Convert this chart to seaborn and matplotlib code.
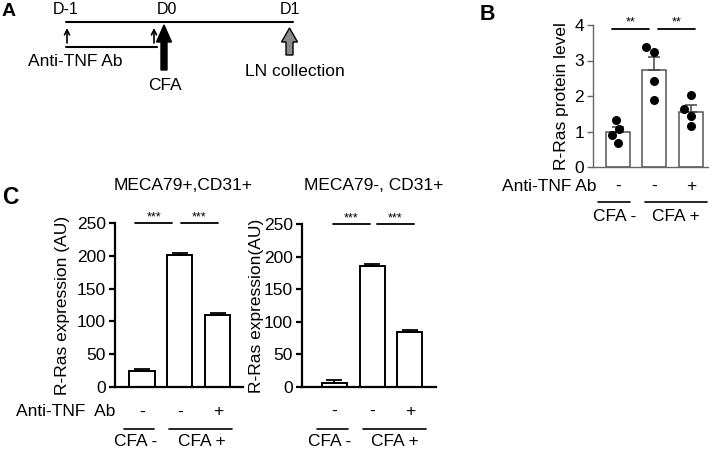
import matplotlib

matplotlib.use("Agg")

import matplotlib.pyplot as plt
import numpy as np
import pandas as pd
import seaborn as sns
from matplotlib.patches import FancyArrow

# ---- data ----
B_GROUPS = ["ctrl", "cfa", "cfa_tnf"]
B_CTRL = [1.32, 1.08, 0.89, 0.68]
B_CFA = [3.25, 3.39, 2.43, 1.90]
B_CFA_TNF = [2.02, 1.62, 1.45, 1.15]

C_GROUPS = ["ctrl", "cfa", "cfa_tnf"]
C_LEFT_MEAN = [24, 201, 109]
C_LEFT_SEM = [3, 4, 4]
C_RIGHT_MEAN = [6, 185, 85]
C_RIGHT_SEM = [5, 4, 3]

TNF_SIGNS = ["-", "-", "+"]

W, H = 719, 450

sns.set_theme(style="ticks")
plt.rcParams.update(
    {
        "font.family": ["Liberation Sans", "DejaVu Sans"],
        "font.size": 12.5,
        "text.color": "black",
        "axes.labelcolor": "black",
        "xtick.color": "black",
        "ytick.color": "black",
    }
)

fig = plt.figure(figsize=(W / 100, H / 100), dpi=100)


def px_axes(left, top, right, bottom):
    return fig.add_axes([left / W, 1 - bottom / H, (right - left) / W, (bottom - top) / H])


def ftext(x, y, s, **kw):
    fig.text(x / W, 1 - y / H, s, **kw)


def style_axes(ax, lw, color):
    sns.despine(ax=ax)
    for side in ["left", "bottom"]:
        ax.spines[side].set_linewidth(lw)
        ax.spines[side].set_color(color)
    ax.tick_params(axis="y", length=4, width=lw, color=color, pad=2.5, labelsize=12.5)
    ax.tick_params(axis="x", length=0, labelbottom=False)
    ax.set_xlabel("")


def sig_bar(ax, x0, x1, y, stars, ystar):
    ax.plot([x0, x1], [y, y], color="black", lw=1.3, clip_on=False)
    ax.text((x0 + x1) / 2, ystar, stars, ha="center", va="center", fontsize=9, clip_on=False)


def under_labels(ax, label, label_x, y_sign, y_line, y_cfa, seg1, seg2, cfa_x):
    tr = ax.get_xaxis_transform()
    ax.text(label_x, y_sign, label, transform=tr, ha="right", va="center", fontsize=12.5)
    for i, s in enumerate(TNF_SIGNS):
        ax.text(i, y_sign, s, transform=tr, ha="center", va="center", fontsize=12.5)
    for seg in (seg1, seg2):
        ax.plot(seg, [y_line, y_line], transform=tr, color="black", lw=1.2, clip_on=False)
    ax.text(cfa_x[0], y_cfa, "CFA -", transform=tr, ha="center", va="center", fontsize=12.5)
    ax.text(cfa_x[1], y_cfa, "CFA +", transform=tr, ha="center", va="center", fontsize=12.5)


# ---- panel A: timeline schematic ----
axA = fig.add_axes([0, 0, 1, 1], zorder=-1)
axA.set_xlim(0, W)
axA.set_ylim(H, 0)
axA.axis("off")
axA.plot([66, 293], [21.7, 21.7], color="black", lw=1.5)
axA.plot([66, 157], [46.7, 46.7], color="black", lw=1.5)
for x in (67, 154):
    axA.annotate("", xy=(x, 28), xytext=(x, 43),
                 arrowprops=dict(arrowstyle="->", lw=1.2, color="black", mutation_scale=9,
                                 shrinkA=0, shrinkB=0))
axA.add_patch(FancyArrow(164, 70, 0, -45, width=6, head_width=15, head_length=17,
                         length_includes_head=True, color="black"))
axA.add_patch(FancyArrow(289.5, 55, 0, -27, width=7, head_width=16, head_length=14,
                         length_includes_head=True, facecolor="#8c8c8c", edgecolor="black", lw=1))
ftext(66, 10, "D-1", ha="center", va="center", fontsize=11.5)
ftext(167, 10, "D0", ha="center", va="center", fontsize=11.5)
ftext(290, 10, "D1", ha="center", va="center", fontsize=11.5)
ftext(75, 62, "Anti-TNF Ab", ha="center", va="center", fontsize=12.5)
ftext(165, 85, "CFA", ha="center", va="center", fontsize=12.5)
ftext(295, 72, "LN collection", ha="center", va="center", fontsize=12.5)

ftext(2, 12, "A", ha="left", va="center", fontsize=14, weight="bold")
ftext(480, 15, "B", ha="left", va="center", fontsize=15.5, weight="bold")
ftext(2, 198, "C", ha="left", va="center", fontsize=16.5, weight="bold")

# ---- panel B ----
b_df = pd.DataFrame(
    {
        "group": np.repeat(B_GROUPS, [len(B_CTRL), len(B_CFA), len(B_CFA_TNF)]),
        "value": B_CTRL + B_CFA + B_CFA_TNF,
    }
)
axB = px_axes(593, 25, 708, 167)
sns.barplot(data=b_df, x="group", y="value", order=B_GROUPS, errorbar=None, width=0.66,
            color="white", edgecolor="#555555", linewidth=1.1, ax=axB)
stats = b_df.groupby("group", sort=False)["value"].agg(["mean", "sem"]).loc[B_GROUPS]
axB.errorbar(range(len(B_GROUPS)), stats["mean"], yerr=[np.zeros(len(B_GROUPS)), stats["sem"]],
             fmt="none", ecolor="#444444", elinewidth=1.1, capsize=4, capthick=1.1, zorder=3)
sns.swarmplot(data=b_df, x="group", y="value", order=B_GROUPS, color="black", size=6.5, ax=axB, zorder=4)
axB.set_ylim(0, 4)
axB.set_yticks([0, 1, 2, 3, 4])
axB.set_xlim(-0.68, 2.47)
style_axes(axB, 1.0, "#666666")
axB.set_ylabel("R-Ras protein level", fontsize=12.5, labelpad=4)
sig_bar(axB, -0.16, 0.85, 3.89, "**", 4.08)
sig_bar(axB, 1.10, 2.11, 3.89, "**", 4.08)
under_labels(axB, "Anti-TNF Ab", -0.58, -0.134, -0.246, -0.352,
             (-0.55, 0.33), (0.74, 2.44), (-0.08, 1.59))

# ---- panel C ----
panels = [
    ((115, 223, 243, 387), (-0.71, 2.66), C_LEFT_MEAN, C_LEFT_SEM, "R-Ras expression (AU)", 5,
     "MECA79+,CD31+", 183, [(-0.18, 0.79), (1.03, 2.0)], "Anti-TNF  Ab", -0.71,
     (-0.47, 0.32), (0.71, 2.37), (-0.18, 1.58)),
    ((302, 224, 436, 387), (-0.86, 2.69), C_RIGHT_MEAN, C_RIGHT_SEM, "R-Ras expression(AU)", 0,
     "MECA79-, CD31+", 374, [(-0.04, 0.94), (1.13, 2.1)], None, None,
     (-0.46, 0.36), (0.75, 2.42), (-0.12, 1.6)),
]
for (rect, xlim, means, sems, ylabel, pad, title, title_x, sigs, lab, lab_x,
     seg1, seg2, cfa_x) in panels:
    ax = px_axes(*rect)
    sns.barplot(x=C_GROUPS, y=means, order=C_GROUPS, width=0.66, color="white",
                edgecolor="black", linewidth=1.4, ax=ax)
    ax.errorbar(range(len(C_GROUPS)), means, yerr=[np.zeros(len(means)), sems], fmt="none",
                ecolor="black", elinewidth=1.3, capsize=6, capthick=1.3, zorder=3)
    ax.set_ylim(0, 250)
    ax.set_yticks([0, 50, 100, 150, 200, 250])
    ax.set_xlim(*xlim)
    style_axes(ax, 1.6, "black")
    ax.set_ylabel(ylabel, fontsize=12.5, labelpad=pad)
    for x0, x1 in sigs:
        sig_bar(ax, x0, x1, 250, "***", 259)
    ftext(title_x, 186, title, ha="center", va="center", fontsize=12.5)
    tr = ax.get_xaxis_transform()
    if lab:
        ax.text(lab_x, -0.152, lab, transform=tr, ha="right", va="center", fontsize=12.5)
    for i, s in enumerate(TNF_SIGNS):
        ax.text(i, -0.152, s, transform=tr, ha="center", va="center", fontsize=12.5)
    for seg in (seg1, seg2):
        ax.plot(seg, [-0.256, -0.256], transform=tr, color="black", lw=1.2, clip_on=False)
    ax.text(cfa_x[0], -0.335, "CFA -", transform=tr, ha="center", va="center", fontsize=12.5)
    ax.text(cfa_x[1], -0.335, "CFA +", transform=tr, ha="center", va="center", fontsize=12.5)

fig.savefig("out.png", dpi=100)
